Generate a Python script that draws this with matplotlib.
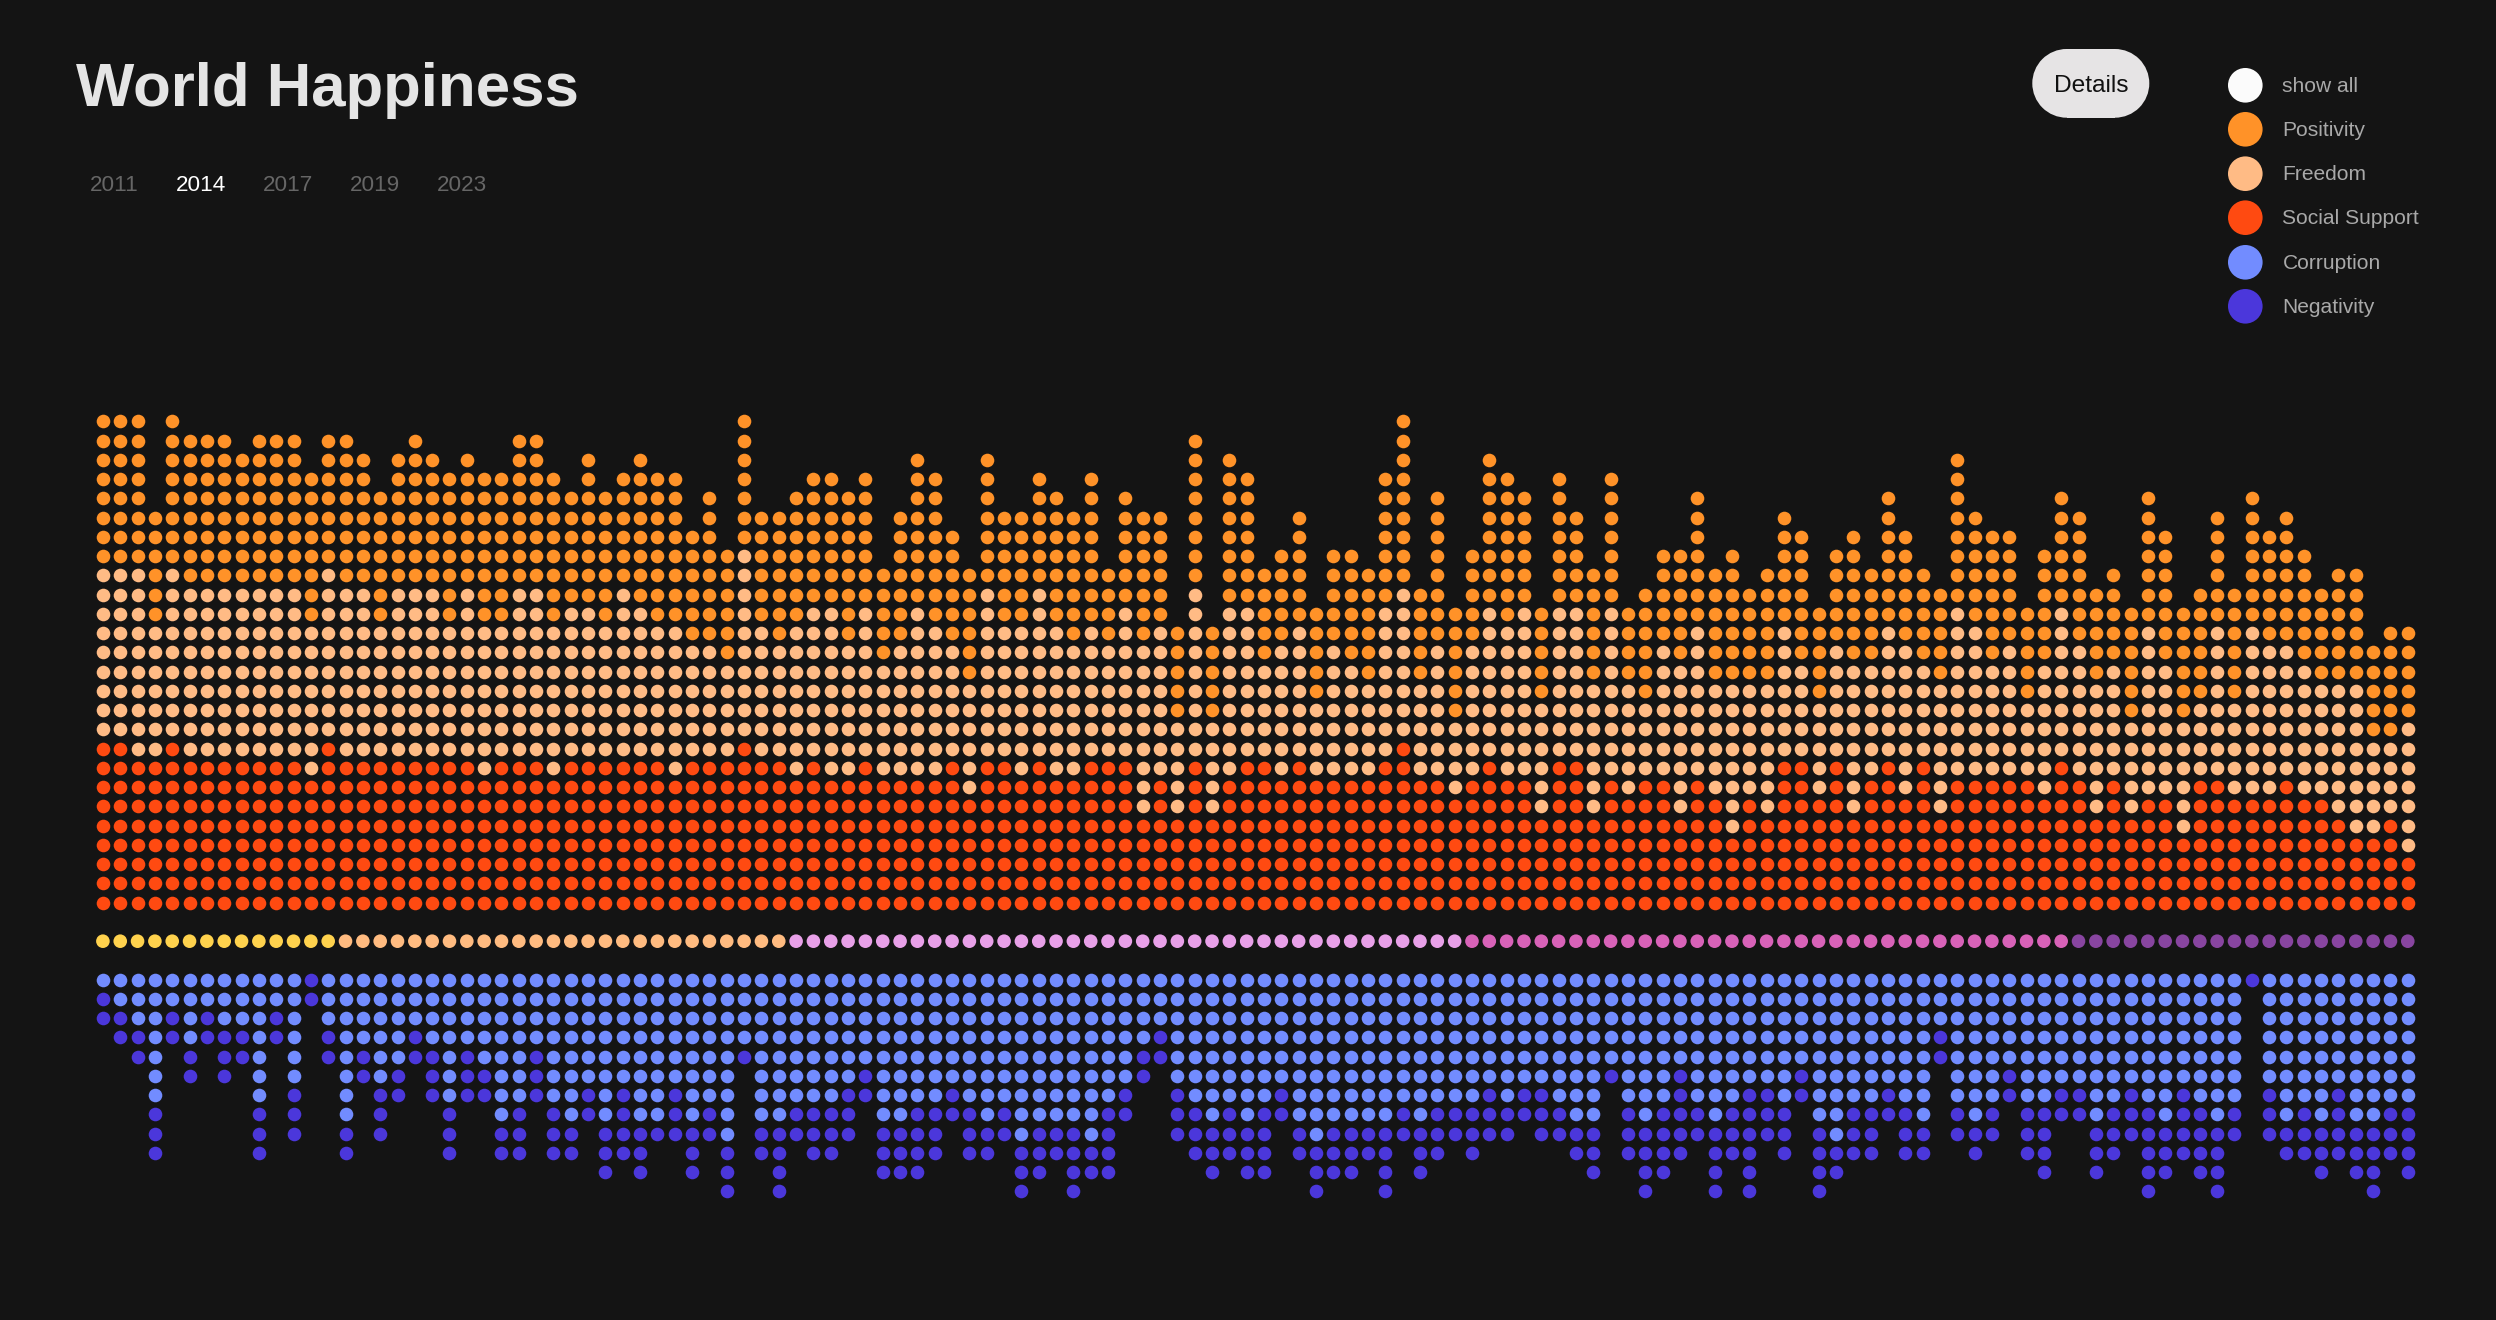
import matplotlib
matplotlib.use("Agg")
import matplotlib.pyplot as plt
import numpy as np
from matplotlib.patches import Circle, Rectangle

# dots per country (one entry per column)
positivity = [8,8,8,6,8,8,8,8,7,8,8,8,8,7,8,7,7,7,8,7,8,7,8,8,8,8,8,6,8,7,6,8,8,8,
              6,8,6,7,6,7,7,7,7,8,7,5,7,8,8,6,6,7,6,6,6,7,7,8,4,6,7,6,5,8,5,8,7,5,
              5,6,5,5,6,6,7,9,5,8,6,5,8,8,6,5,7,5,6,7,4,6,5,6,7,6,7,5,6,6,7,5,5,7,
              5,7,6,5,5,8,6,7,6,5,6,6,7,5,5,6,7,7,6,6,6,6,7,6,7,6,5,6,6,5,6,5]
freedom = [9,9,10,7,9,9,9,9,9,9,9,9,8,9,9,9,7,9,9,9,7,9,8,7,9,9,8,8,8,7,9,8,7,8,
           6,6,5,10,7,6,8,8,9,7,8,6,7,9,8,6,6,9,7,8,9,8,7,7,6,8,9,8,5,9,5,9,8,5,
           7,7,4,7,6,5,8,8,5,7,4,7,8,8,9,6,8,8,7,9,6,4,7,8,8,6,8,6,7,7,5,5,6,8,
           6,7,8,5,7,9,8,6,7,4,7,8,7,7,6,5,9,7,6,4,8,5,9,8,7,7,6,7,8,5,4,7]
social = [9,9,8,8,9,8,8,8,8,8,8,8,7,9,8,8,8,8,8,8,8,8,7,8,8,8,7,8,8,8,8,8,8,7,
          8,8,8,9,8,8,7,8,7,7,8,7,7,7,7,8,6,8,8,7,8,7,7,8,8,8,5,7,5,8,5,7,8,8,
          7,8,7,7,7,7,8,9,7,7,6,7,8,7,7,5,8,8,5,7,6,7,7,5,7,6,4,6,5,8,8,6,8,5,
          7,8,6,8,5,7,7,7,7,7,6,8,7,5,7,5,6,6,4,7,7,6,6,6,7,6,6,5,4,4,5,3]
corruption = [1,2,3,7,2,4,2,3,3,7,2,6,0,3,8,4,6,5,3,4,7,4,5,8,7,4,7,8,6,8,6,8,8,6,
              8,7,9,4,8,8,7,7,7,6,5,8,8,7,7,6,7,8,7,9,8,8,8,9,7,6,4,3,6,7,8,7,8,7,
              6,8,9,8,8,8,8,7,8,7,7,7,6,7,6,6,7,8,8,5,7,8,7,5,7,8,7,6,6,7,5,8,9,7,
              7,6,7,8,3,7,8,7,5,7,7,6,6,8,7,6,7,8,6,7,8,7,0,6,8,7,8,6,8,8,7,7]
negativity = [2,2,2,3,2,2,2,3,2,3,2,3,2,2,2,2,3,2,2,3,3,3,2,2,3,3,3,2,2,3,4,3,1,3,
              3,2,3,1,2,4,2,3,3,3,2,3,3,4,3,2,3,2,2,3,3,2,4,2,4,2,2,2,3,3,3,3,3,4,
              2,2,3,3,3,2,4,2,3,3,2,3,3,2,2,3,2,2,3,1,3,4,4,5,2,4,3,6,3,3,2,4,2,3,
              3,2,3,2,2,2,2,2,2,3,4,2,2,3,3,3,5,3,4,4,4,2,1,3,2,3,3,4,3,4,3,4]

# the middle strip: how many columns in a row share one colour
band_counts = [14, 26, 39, 35, 20]
band_colors = ["#FFD24D", "#FFBB80", "#E8A0E8", "#D862B8", "#8845A0"]

years = ["2011", "2014", "2017", "2019", "2023"]
legend_labels = ["show all", "Positivity", "Freedom", "Social Support", "Corruption", "Negativity"]
legend_colors = ["#FBFBFB", "#FF9228", "#FFBB85", "#FF4A11", "#728CFF", "#4B37DB"]

BG = "#141414"
W, H = 2496, 1320
plt.rcParams["font.family"] = ["Liberation Sans", "DejaVu Sans"]


def px(size):
    # css pixels on the 2x screenshot -> points at dpi 100
    return size * 72 / 100


fig = plt.figure(figsize=(W / 100, H / 100), dpi=100, facecolor=BG)

# dot grid: x is the column number, y is the row number (0 = lowest red row)
x0, dx = 102.9, 17.33
y0, dy = 902.7, 19.25
ax = fig.add_axes([0, 0, 1, 1], facecolor=BG)
ax.set_xlim(-x0 / dx, (W - x0) / dx)
ax.set_ylim(-(H - y0) / dy, y0 / dy)
ax.axis("off")

dot = px(13.6) ** 2
for i in range(len(social)):
    # upper stack grows from the bottom
    s, f, p = social[i], freedom[i], positivity[i]
    ax.scatter([i] * s, np.arange(s), s=dot, c=legend_colors[3], linewidths=0)
    ax.scatter([i] * f, np.arange(s, s + f), s=dot, c=legend_colors[2], linewidths=0)
    ax.scatter([i] * p, np.arange(s + f, s + f + p), s=dot, c=legend_colors[1], linewidths=0)
    # lower stack hangs down from row -4
    c, n = corruption[i], negativity[i]
    ax.scatter([i] * c, -4 - np.arange(c), s=dot, c=legend_colors[4], linewidths=0)
    ax.scatter([i] * n, -4 - np.arange(c, c + n), s=dot, c=legend_colors[5], linewidths=0)

# middle strip
strip_colors = np.repeat(band_colors, band_counts)
ax.scatter(np.arange(len(strip_colors)), [-2] * len(strip_colors), s=dot, c=list(strip_colors), linewidths=0)

# header stuff, in pixel coordinates
ui = fig.add_axes([0, 0, 1, 1], facecolor="none")
ui.set_xlim(0, W)
ui.set_ylim(H, 0)
ui.axis("off")

ui.text(76, 106, "World Happiness", fontsize=px(61.7), fontweight="bold", color="#E5E5E5", va="baseline")

year_x = [114.5, 201, 288, 375, 462]
for label, xpos in zip(years, year_x):
    ui.text(xpos, 190.7, label, fontsize=px(22.5), color="white" if label == "2014" else "#666666",
            ha="center", va="baseline")

# pill button: a bar with a round cap at each end
btn_left, btn_right, btn_top, btn_bottom = 2032.3, 2149.3, 49, 117.7
btn_r = (btn_bottom - btn_top) / 2
ui.add_patch(Rectangle((btn_left + btn_r, btn_top), btn_right - btn_left - 2 * btn_r, btn_bottom - btn_top,
                       facecolor="#E6E4E5", edgecolor="none"))
ui.add_patch(Circle((btn_left + btn_r, btn_top + btn_r), btn_r, facecolor="#E6E4E5", edgecolor="none"))
ui.add_patch(Circle((btn_right - btn_r, btn_top + btn_r), btn_r, facecolor="#E6E4E5", edgecolor="none"))
ui.text(2091.3, 91.7, "Details", fontsize=px(24.5), color="#111111", ha="center", va="baseline")

legend_y = [85.3, 129.3, 173.7, 217.7, 262.3, 306.3]
for label, color, ypos in zip(legend_labels, legend_colors, legend_y):
    ui.add_patch(Circle((2245.3, ypos), 17.3, facecolor=color, edgecolor="none"))
    ui.text(2282.5, ypos + 6.5, label, fontsize=px(21), color="#A9A9A9", va="baseline")

fig.savefig("out.png", dpi=100, facecolor=BG)
